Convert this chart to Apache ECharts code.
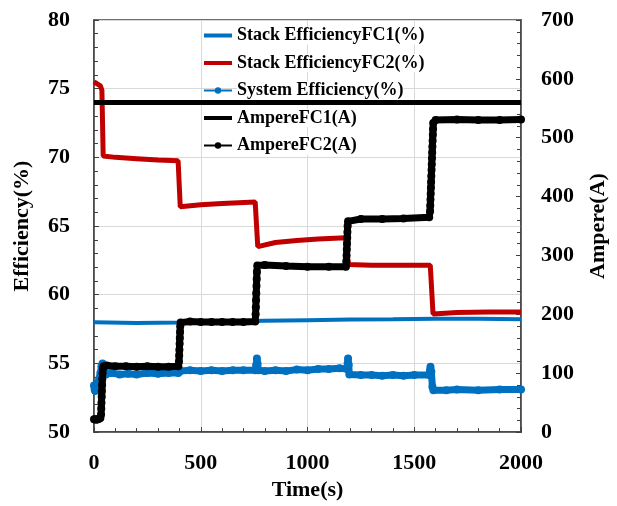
<!DOCTYPE html>
<html>
<head>
<meta charset="utf-8">
<script src="https://cdn.jsdelivr.net/npm/echarts@6/dist/echarts.min.js"></script>
<style>
  html, body { margin: 0; padding: 0; background: #fff; }
  #chart { width: 617px; height: 506px; }
</style>
</head>
<body>
<div id="chart"></div>
<script>
// Fuel-cell test run: stack / system efficiency (left axis) and current (right axis) vs time.

const seriesNames = [
  'Stack EfficiencyFC1(%)',
  'Stack EfficiencyFC2(%)',
  'System Efficiency(%)',
  'AmpereFC1(A)',
  'AmpereFC2(A)'
];

const effTicks = [50, 55, 60, 65, 70, 75, 80];
const ampTicks = [0, 100, 200, 300, 400, 500, 600, 700];
const timeTicks = [0, 500, 1000, 1500, 2000];

// [time (s), efficiency (%)]
const stackEffFC1 = [
  [0, 58.0], [200, 57.95], [400, 57.97], [600, 58.05], [800, 58.1], [1000, 58.15],
  [1200, 58.2], [1400, 58.22], [1600, 58.25], [1800, 58.25], [2000, 58.22]
];

const stackEffFC2 = [
  [0, 75.5], [30, 75.2], [37, 74.9], [43, 70.1], [100, 70.0], [200, 69.9],
  [300, 69.8], [394, 69.75], [404, 66.4], [500, 66.55], [600, 66.65], [755, 66.75],
  [767, 63.5], [850, 63.8], [950, 63.95], [1050, 64.05], [1180, 64.15],
  [1191, 62.2], [1300, 62.15], [1450, 62.15], [1575, 62.15],
  [1588, 58.6], [1700, 58.7], [1850, 58.75], [2000, 58.75]
];

const systemEff = [
  [0, 53.4], [3, 53.1], [6, 53.0], [10, 53.2], [14, 53.4], [18, 53.6], [25, 53.9],
  [30, 54.3], [35, 54.8], [40, 55.0], [45, 54.5], [55, 54.2], [80, 54.3], [120, 54.2],
  [160, 54.25], [200, 54.2], [250, 54.3], [300, 54.25], [350, 54.3], [395, 54.3],
  [405, 54.45], [450, 54.5], [500, 54.45], [550, 54.5], [600, 54.45], [650, 54.5],
  [700, 54.5], [755, 54.5], [760, 54.9], [763, 55.35], [766, 55.0], [770, 54.5],
  [800, 54.45], [850, 54.5], [900, 54.45], [950, 54.55], [1000, 54.5], [1050, 54.6],
  [1100, 54.6], [1150, 54.65], [1185, 54.6], [1188, 55.0], [1190, 55.35], [1193, 54.9],
  [1196, 54.2], [1250, 54.15], [1300, 54.15], [1350, 54.1], [1400, 54.15], [1450, 54.1],
  [1500, 54.15], [1570, 54.15], [1574, 54.5], [1576, 54.75], [1580, 54.4], [1585, 53.3],
  [1590, 53.05], [1650, 53.05], [1700, 53.1], [1800, 53.05], [1900, 53.1], [2000, 53.1]
];

// [time (s), current (A)]
const ampereFC1 = [[0, 560], [2000, 560]];

const ampereFC2 = [
  [0, 22], [5, 22], [10, 21], [15, 22], [20, 22], [25, 23], [30, 24],
  [33, 30], [34, 40], [35, 50], [36, 60], [37, 70], [38, 80], [39, 90], [40, 100],
  [42, 108], [45, 112], [60, 113], [100, 112], [150, 112], [200, 111], [250, 112],
  [300, 111], [350, 111], [395, 112],
  [398, 120], [399, 130], [400, 140], [401, 150], [402, 160], [403, 170], [404, 180],
  [406, 186], [450, 188], [500, 187], [550, 187], [600, 187], [650, 187], [700, 187],
  [755, 188],
  [757, 200], [758, 212], [759, 224], [760, 236], [761, 248], [762, 260], [763, 272],
  [765, 283], [800, 284], [900, 282], [1000, 281], [1100, 281], [1180, 281],
  [1182, 290], [1183, 300], [1184, 310], [1185, 320], [1186, 330], [1187, 340],
  [1188, 350], [1190, 358], [1250, 362], [1350, 362], [1450, 363], [1570, 365],
  [1574, 375], [1575, 385], [1576, 395], [1577, 405], [1578, 415], [1579, 425],
  [1580, 435], [1581, 445], [1582, 455], [1583, 465], [1584, 475], [1585, 485],
  [1586, 495], [1587, 505], [1588, 515], [1589, 525], [1600, 530], [1700, 531],
  [1800, 530], [1900, 530], [2000, 531]
];

const BLUE = '#0070C0';
const RED = '#C00000';
const BLACK = '#000000';
const FONT = "'Liberation Serif', 'Times New Roman', serif";

const chart = echarts.init(document.getElementById('chart'), null, { renderer: 'canvas' });

const axisText = { fontFamily: FONT, fontWeight: 'bold', fontSize: 22, color: '#000' };

// legend entries: plain thick lines for the continuous traces, thin line + dot for the sampled ones
const plainLine = { itemStyle: { opacity: 0 }, lineStyle: { width: 4 } };
const dottedLine = { lineStyle: { width: 2 } };

chart.setOption({
  animation: false,
  backgroundColor: '#fff',
  grid: { left: 94, right: 91, top: 20, bottom: 69, show: true, borderColor: '#404040', borderWidth: 1.5, containLabel: false },
  legend: {
    orient: 'vertical',
    left: 202,
    top: 26.5,
    itemWidth: 28,
    itemHeight: 8,
    itemGap: 9.5,
    padding: 0,
    textStyle: { fontFamily: FONT, fontWeight: 'bold', fontSize: 18, color: '#000', lineHeight: 18, backgroundColor: '#fff' },
    data: [
      Object.assign({ name: seriesNames[0] }, plainLine),
      Object.assign({ name: seriesNames[1] }, plainLine),
      Object.assign({ name: seriesNames[2] }, dottedLine),
      Object.assign({ name: seriesNames[3] }, plainLine),
      Object.assign({ name: seriesNames[4] }, dottedLine)
    ]
  },
  xAxis: {
    type: 'value',
    min: 0, max: 2000, interval: 500,
    name: 'Time(s)', nameLocation: 'middle', nameGap: 42,
    nameTextStyle: axisText,
    axisLine: { lineStyle: { color: '#404040', width: 1.5 } },
    axisTick: { inside: true, length: 5, lineStyle: { color: '#404040' } },
    minorTick: { show: true, splitNumber: 5, length: 4, lineStyle: { color: '#404040' } },
    axisLabel: Object.assign({ margin: 20, formatter: v => timeTicks.includes(v) ? String(v) : '' }, axisText),
    splitLine: { show: true, lineStyle: { color: '#d9d9d9', width: 1 } }
  },
  yAxis: [
    {
      type: 'value', position: 'left',
      min: effTicks[0], max: effTicks[effTicks.length - 1], interval: 5,
      name: 'Efficiency(%)', nameLocation: 'middle', nameGap: 61, nameRotate: 90,
      nameTextStyle: axisText,
      axisLine: { show: true, lineStyle: { color: '#404040', width: 1.5 } },
      axisTick: { show: true, inside: true, length: 5, lineStyle: { color: '#404040' } },
      minorTick: { show: true, splitNumber: 5, length: 4, lineStyle: { color: '#404040' } },
      axisLabel: Object.assign({ margin: 24, formatter: v => effTicks.includes(v) ? String(v) : '' }, axisText),
      splitLine: { show: true, lineStyle: { color: '#d9d9d9', width: 1 } }
    },
    {
      type: 'value', position: 'right',
      min: ampTicks[0], max: ampTicks[ampTicks.length - 1], interval: 100,
      name: 'Ampere(A)', nameLocation: 'middle', nameGap: 66, nameRotate: 90,
      nameTextStyle: axisText,
      axisLine: { show: true, lineStyle: { color: '#404040', width: 1.5 } },
      axisTick: { show: true, inside: true, length: 5, lineStyle: { color: '#404040' } },
      minorTick: { show: true, splitNumber: 5, length: 4, lineStyle: { color: '#404040' } },
      axisLabel: Object.assign({ margin: 20, formatter: v => ampTicks.includes(v) ? String(v) : '' }, axisText),
      splitLine: { show: false }
    }
  ],
  series: [
    {
      name: seriesNames[0], type: 'line', yAxisIndex: 0, data: stackEffFC1,
      showSymbol: false, symbol: 'none',
      lineStyle: { color: BLUE, width: 4 }, itemStyle: { color: BLUE }, z: 3
    },
    {
      name: seriesNames[1], type: 'line', yAxisIndex: 0, data: stackEffFC2,
      showSymbol: false, symbol: 'none',
      lineStyle: { color: RED, width: 5 }, itemStyle: { color: RED }, z: 3
    },
    {
      name: seriesNames[2], type: 'line', yAxisIndex: 0, data: systemEff,
      symbol: 'circle', symbolSize: 8, showSymbol: true, showAllSymbol: true,
      lineStyle: { color: BLUE, width: 7 }, itemStyle: { color: BLUE }, z: 3
    },
    {
      name: seriesNames[3], type: 'line', yAxisIndex: 1, data: ampereFC1,
      showSymbol: false, symbol: 'none',
      lineStyle: { color: BLACK, width: 5 }, itemStyle: { color: BLACK }, z: 6
    },
    {
      name: seriesNames[4], type: 'line', yAxisIndex: 1, data: ampereFC2,
      symbol: 'circle', symbolSize: 8, showSymbol: true, showAllSymbol: true,
      lineStyle: { color: BLACK, width: 7 }, itemStyle: { color: BLACK }, z: 4
    }
  ]
});
</script>
</body>
</html>
